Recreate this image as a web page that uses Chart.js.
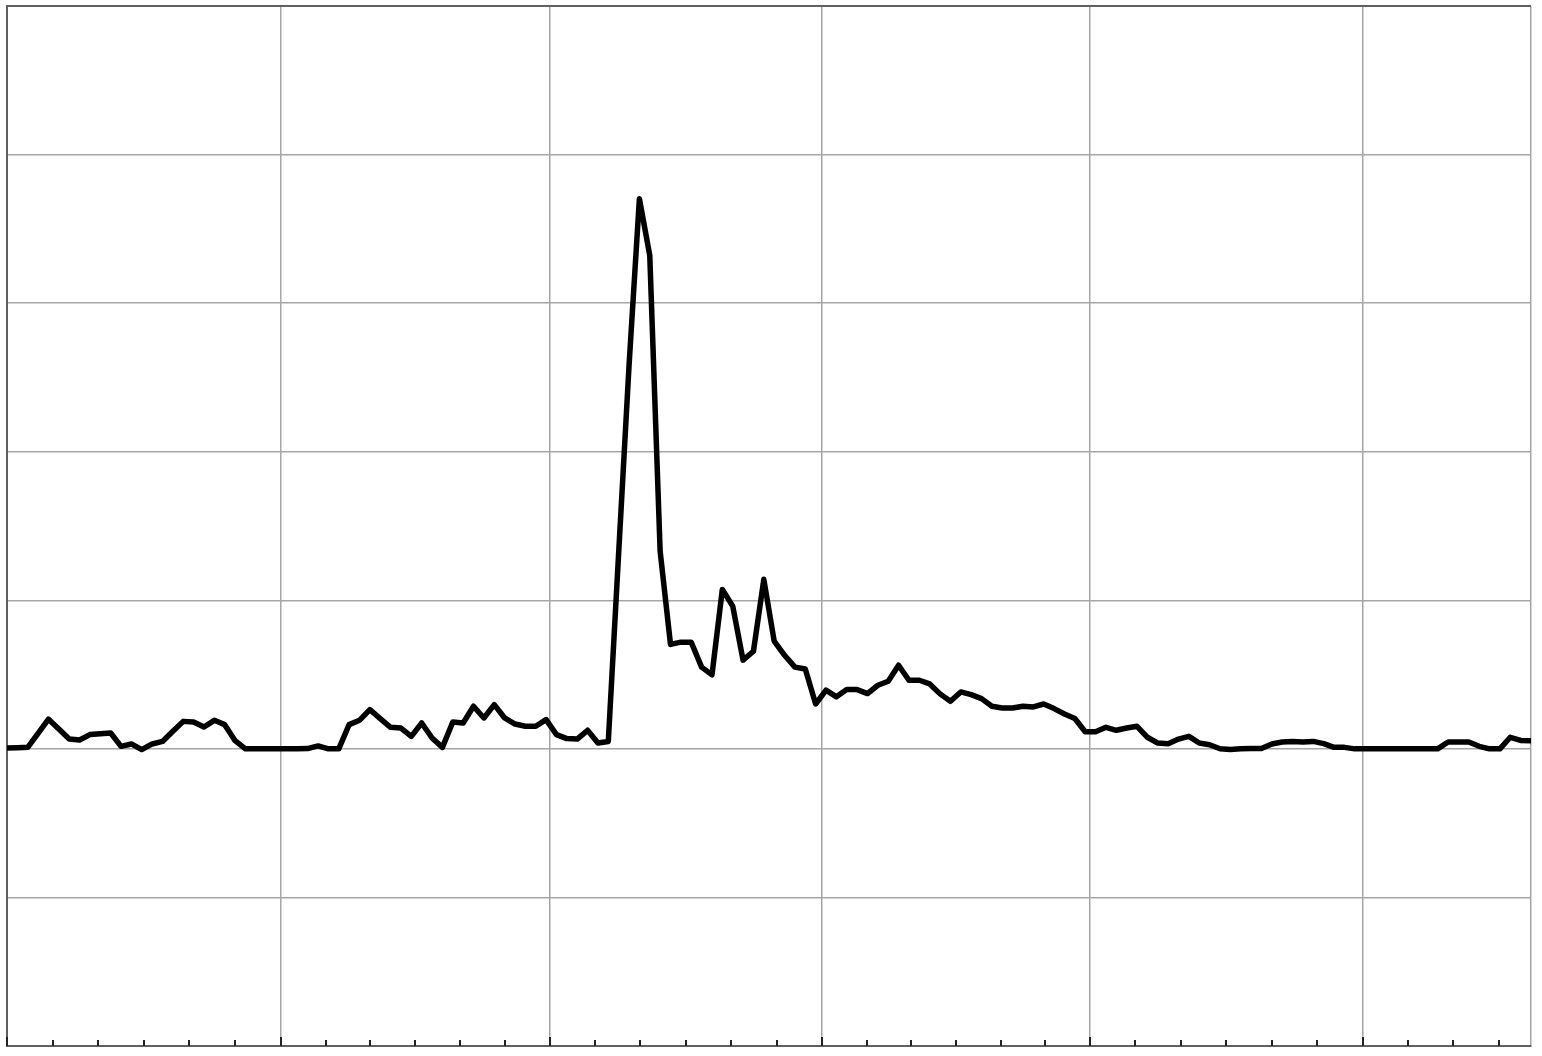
<!DOCTYPE html>
<html>
<head>
<meta charset="utf-8">
<script src="https://cdn.jsdelivr.net/npm/chart.js@4"></script>
<style>
    html, body { margin: 0; padding: 0; background: #fff; }
    #wrap { width: 1542px; height: 1056px; }
</style>
</head>
<body>
<div id="wrap"><canvas id="lineChart" width="1542" height="1056"></canvas></div>
<script>
// sample positions (one per reading)
const samples = [
    0, 1, 2, 3, 4, 5, 6, 7, 8, 9, 10, 11, 12, 13, 14, 15, 16, 17, 18, 19,
    20, 21, 22, 23, 24, 25, 26, 27, 28, 29, 30, 31, 32, 33, 34, 35, 36, 37, 38, 39,
    40, 41, 42, 43, 44, 45, 46, 47, 48, 49, 50, 51, 52, 53, 54, 55, 56, 57, 58, 59,
    60, 61, 62, 63, 64, 65, 66, 67, 68, 69, 70, 71, 72, 73, 74, 75, 76, 77, 78, 79,
    80, 81, 82, 83, 84, 85, 86, 87, 88, 89, 90, 91, 92, 93, 94, 95, 96, 97, 98, 99,
    100, 101, 102, 103, 104, 105, 106, 107, 108, 109, 110, 111, 112, 113, 114, 115, 116, 117, 118, 119,
    120, 121, 122, 123, 124, 125, 126, 127, 128, 129, 130, 131, 132, 133, 134, 135, 136, 137, 138, 139,
    140, 141, 142, 143, 144, 145, 146, 147
];

// readings
const values = [
    0.05, 0.08, 0.1, 1.05, 2.0, 1.33, 0.66, 0.6, 0.96, 1.02, 1.07, 0.17, 0.33, -0.05, 0.33, 0.5, 1.18, 1.85, 1.81, 1.47,
    1.92, 1.63, 0.55, 0, 0, 0, 0, 0, 0, 0.02, 0.2, 0.0, 0, 1.63, 1.92, 2.64, 2.04, 1.45, 1.4, 0.84,
    1.74, 0.73, 0.1, 1.81, 1.74, 2.87, 2.08, 2.98, 2.08, 1.67, 1.52, 1.52, 1.97, 0.96, 0.69, 0.66, 1.25, 0.39, 0.5, 13.2,
    25.8, 37.03, 33.2, 13.3, 7.03, 7.18, 7.18, 5.5, 4.98, 10.73, 9.61, 5.97, 6.57, 11.41, 7.25, 6.3, 5.5, 5.37, 3.02, 3.95,
    3.5, 3.99, 3.99, 3.72, 4.28, 4.55, 5.63, 4.62, 4.62, 4.37, 3.7, 3.2, 3.83, 3.65, 3.38, 2.87, 2.75, 2.75, 2.87, 2.82,
    3.02, 2.71, 2.35, 2.04, 1.15, 1.15, 1.45, 1.25, 1.4, 1.52, 0.78, 0.39, 0.35, 0.66, 0.84, 0.39, 0.28, 0.01, -0.05, 0,
    0.02, 0.02, 0.33, 0.46, 0.5, 0.46, 0.5, 0.35, 0.1, 0.1, 0, 0, 0, 0, 0, 0, 0, 0, 0, 0.46,
    0.46, 0.46, 0.17, 0, 0, 0.78, 0.57, 0.55
];

// x tick positions, every 6th one is a major (gridline) tick
const xTicks = [
    0, 4.4, 8.8, 13.2, 17.6, 22.0,
    26.4, 30.73, 35.05, 39.38, 43.7, 48.03,
    52.35, 56.73, 61.1, 65.48, 69.85, 74.23,
    78.6, 82.91, 87.22, 91.53, 95.83, 100.14,
    104.45, 108.83, 113.22, 117.6, 121.98, 126.37,
    130.75, 135.13, 139.52, 143.9
];
const xMax = 147;

const yMin = -20;
const yMax = 50;
const yStep = 10;

const frameColor = '#606060';
const gridColor = '#a6a6a6';

// inward tick marks along the bottom axis
const innerTicks = {
    id: 'innerTicks',
    afterDraw(chart) {
        const ctx = chart.ctx;
        const xs = chart.scales.x;
        const bottom = chart.chartArea.bottom;
        ctx.save();
        ctx.strokeStyle = '#222';
        ctx.lineWidth = 2;
        xTicks.forEach((v, i) => {
            const px = Math.round(xs.getPixelForValue(v));
            const len = i % 6 === 0 ? 9 : 6;
            ctx.beginPath();
            ctx.moveTo(px, bottom);
            ctx.lineTo(px, bottom - len);
            ctx.stroke();
        });
        ctx.restore();
    }
};

const ctx = document.getElementById('lineChart').getContext('2d');

new Chart(ctx, {
    type: 'line',
    data: {
        datasets: [{
            data: samples.map((s, i) => ({ x: s, y: values[i] })),
            borderColor: '#000',
            borderWidth: 5.5,
            borderJoinStyle: 'round',
            fill: false,
            pointRadius: 0,
            tension: 0
        }]
    },
    options: {
        responsive: false,
        animation: false,
        layout: {
            padding: { left: 7, top: 6, right: 11, bottom: 10 }
        },
        scales: {
            x: {
                type: 'linear',
                min: 0,
                max: xMax,
                afterBuildTicks: scale => {
                    scale.ticks = xTicks.filter((v, i) => i % 6 === 0)
                        .concat([xMax])
                        .map(v => ({ value: v }));
                },
                ticks: { display: false },
                grid: {
                    drawTicks: false,
                    color: gridColor,
                    lineWidth: 1.5
                },
                border: { display: true, color: frameColor, width: 2 }
            },
            y: {
                min: yMin,
                max: yMax,
                ticks: { display: false, stepSize: yStep },
                grid: {
                    drawTicks: false,
                    color: c => c.tick && c.tick.value === yMax ? frameColor : gridColor,
                    lineWidth: c => c.tick && c.tick.value === yMax ? 2 : 1.5
                },
                border: { display: true, color: frameColor, width: 2 }
            }
        },
        plugins: {
            legend: { display: false },
            tooltip: { enabled: false }
        }
    },
    plugins: [innerTicks]
});
</script>
</body>
</html>
